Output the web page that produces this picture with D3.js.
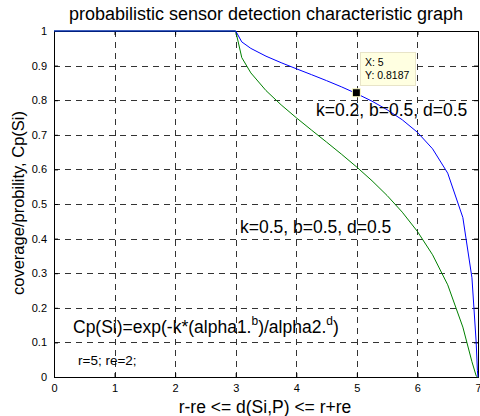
<!DOCTYPE html>
<html><head><meta charset="utf-8">
<script src="https://cdn.jsdelivr.net/npm/d3@7/dist/d3.min.js"></script>
<style>
body{margin:0;background:#fff;}
svg{display:block;font-family:"Liberation Sans",Arial,sans-serif;}
</style></head>
<body><svg id="c" width="480" height="416"></svg>
<script>
// Data
const xVals = [0, 3, 3.1, 3.25, 3.5, 3.75, 4, 4.25, 4.5, 4.75, 5, 5.25, 5.5, 5.75, 6, 6.25, 6.5, 6.75, 6.9, 6.97, 6.99, 7];
const blueVals = [1, 1, 0.9685, 0.9497, 0.9272, 0.9084, 0.8909, 0.8739, 0.8565, 0.8383, 0.8187, 0.7971, 0.7724, 0.7433, 0.7072, 0.6595, 0.5891, 0.4609, 0.2868, 0.1002, 0.0184, 0];
const greenVals = [1, 1, 0.9231, 0.8789, 0.8278, 0.7865, 0.7493, 0.7138, 0.6789, 0.6434, 0.6065, 0.5672, 0.5244, 0.4763, 0.4206, 0.3532, 0.2664, 0.1442, 0.0441, 0.0032, 0, 0];
const xTicks = [0, 1, 2, 3, 4, 5, 6, 7];
const yTicks = [0, 0.1, 0.2, 0.3, 0.4, 0.5, 0.6, 0.7, 0.8, 0.9, 1];
const tipPoint = [5, 0.8187];

const svg = d3.select("#c");
const L = 54, R = 478, T = 31, B = 377;
const x = d3.scaleLinear().domain([0, 7]).range([L, R]);
const y = d3.scaleLinear().domain([0, 1]).range([B, T]);

// grid
const g = svg.append("g");
g.selectAll(".gx").data(xTicks.slice(1, -1)).enter().append("line")
  .attr("x1", d => Math.round(x(d)) + 0.5).attr("x2", d => Math.round(x(d)) + 0.5)
  .attr("y1", T).attr("y2", B).attr("stroke", "#333").attr("stroke-dasharray", "6,5");
g.selectAll(".gy").data(yTicks.slice(1, -1)).enter().append("line")
  .attr("y1", d => Math.round(y(d)) + 0.5).attr("y2", d => Math.round(y(d)) + 0.5)
  .attr("x1", L).attr("x2", R).attr("stroke", "#333").attr("stroke-dasharray", "6,5");

// axes
const ax = svg.append("g").attr("transform", `translate(0,${B})`)
  .call(d3.axisBottom(x).tickValues(xTicks).tickSize(-4).tickPadding(7).tickFormat(d3.format("d")));
const ax2 = svg.append("g").attr("transform", `translate(0,${T})`)
  .call(d3.axisTop(x).tickValues(xTicks).tickSize(-4).tickFormat(""));
const ay = svg.append("g").attr("transform", `translate(${L},0)`)
  .call(d3.axisLeft(y).tickValues(yTicks).tickSize(-4).tickPadding(7).tickFormat(d => d === 0 || d === 1 ? d3.format("d")(d) : d3.format(".1f")(d)));
const ay2 = svg.append("g").attr("transform", `translate(${R},0)`)
  .call(d3.axisRight(y).tickValues(yTicks).tickSize(-4).tickFormat(""));
[ax, ax2, ay, ay2].forEach(a => {
  a.select(".domain").attr("stroke", "#000");
  a.selectAll(".tick line").attr("stroke", "#000");
  a.selectAll("text").attr("fill", "#000").style("font-size", "11px").style("font-family", "Liberation Sans, Arial, sans-serif");
});

// curves
const line = d3.line().x((d, i) => x(xVals[i])).y(d => y(d));
svg.append("path").datum(greenVals).attr("d", line).attr("fill", "none").attr("stroke", "#008000").attr("stroke-width", 1);
svg.append("path").datum(blueVals).attr("d", line).attr("fill", "none").attr("stroke", "#0000ff").attr("stroke-width", 1);

// title and labels
svg.append("text").attr("x", 266).attr("y", 20).attr("text-anchor", "middle").style("font-size", "18px").text("probabilistic sensor detection characteristic graph");
svg.append("text").attr("x", 265).attr("y", 413).attr("text-anchor", "middle").style("font-size", "17.5px").text("r-re <= d(Si,P) <= r+re");
svg.append("text").attr("transform", "translate(24,203) rotate(-90)").attr("text-anchor", "middle").style("font-size", "16.5px").text("coverage/probility, Cp(Si)");

// annotations
svg.append("text").attr("x", 316).attr("y", 116).style("font-size", "17.5px").text("k=0.2, b=0.5, d=0.5");
svg.append("text").attr("x", 240).attr("y", 233).style("font-size", "17.5px").text("k=0.5, b=0.5, d=0.5");
const f = svg.append("text").attr("x", 73).attr("y", 333).style("font-size", "17.5px");
f.append("tspan").text("Cp(Si)=exp(-k*(alpha1.");
f.append("tspan").attr("dy", -8).style("font-size", "12px").text("b");
f.append("tspan").attr("dy", 8).text(")/alpha2.");
f.append("tspan").attr("dy", -8).style("font-size", "12px").text("d");
f.append("tspan").attr("dy", 8).text(")");
svg.append("text").attr("x", 78).attr("y", 365).style("font-size", "13.5px").text("r=5; re=2;");

// datatip
const px = x(tipPoint[0]), py = y(tipPoint[1]);
svg.append("rect").attr("x", 360.5).attr("y", 52.5).attr("width", 55).attr("height", 33)
  .attr("fill", "#ffffe1").attr("stroke", "#e8e4c8");
svg.append("text").attr("x", 365).attr("y", 66).style("font-size", "10.5px").text("X: " + tipPoint[0]);
svg.append("text").attr("x", 365).attr("y", 79).style("font-size", "10.5px").text("Y: " + tipPoint[1]);
svg.append("rect").attr("x", px - 4.5).attr("y", py - 5).attr("width", 8).attr("height", 8)
  .attr("fill", "#000").attr("stroke", "#ffffc8").attr("stroke-width", 1);
</script></body></html>
